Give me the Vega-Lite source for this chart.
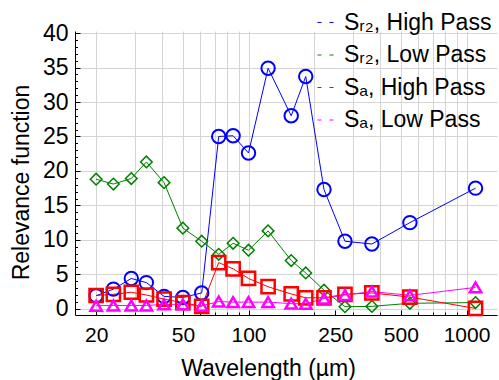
{
  "$schema": "https://vega.github.io/schema/vega-lite/v6.json",
  "width": 422,
  "height": 284,
  "autosize": "none",
  "padding": {"left": 75, "top": 31, "right": 2, "bottom": 65},
  "background": "white",
  "config": {
    "view": {"stroke": null},
    "font": "Liberation Sans",
    "axis": {"domainColor": "black", "tickColor": "black", "gridColor": "#d4d4d4", "gridWidth": 1, "labelColor": "black", "titleColor": "black", "labelFont": "Liberation Sans", "titleFont": "Liberation Sans", "titleFontWeight": "normal"},
    "legend": {"labelFont": "Liberation Sans"}
  },
  "datasets": {
    "pts": [
      {"w": 20, "s": "Sᵣ₂, High Pass", "v": 1.9},
      {"w": 24, "s": "Sᵣ₂, High Pass", "v": 2.85},
      {"w": 29, "s": "Sᵣ₂, High Pass", "v": 4.4},
      {"w": 34, "s": "Sᵣ₂, High Pass", "v": 3.8},
      {"w": 41, "s": "Sᵣ₂, High Pass", "v": 1.8},
      {"w": 50, "s": "Sᵣ₂, High Pass", "v": 1.65},
      {"w": 61, "s": "Sᵣ₂, High Pass", "v": 2.3},
      {"w": 73, "s": "Sᵣ₂, High Pass", "v": 25.0},
      {"w": 85, "s": "Sᵣ₂, High Pass", "v": 25.1},
      {"w": 100, "s": "Sᵣ₂, High Pass", "v": 22.6},
      {"w": 123, "s": "Sᵣ₂, High Pass", "v": 34.9},
      {"w": 157, "s": "Sᵣ₂, High Pass", "v": 28.0},
      {"w": 183, "s": "Sᵣ₂, High Pass", "v": 33.7},
      {"w": 222, "s": "Sᵣ₂, High Pass", "v": 17.3},
      {"w": 277, "s": "Sᵣ₂, High Pass", "v": 9.8},
      {"w": 368, "s": "Sᵣ₂, High Pass", "v": 9.4},
      {"w": 550, "s": "Sᵣ₂, High Pass", "v": 12.5},
      {"w": 1100, "s": "Sᵣ₂, High Pass", "v": 17.5},
      {"w": 20, "s": "Sᵣ₂, Low Pass", "v": 18.8},
      {"w": 24, "s": "Sᵣ₂, Low Pass", "v": 18.1},
      {"w": 29, "s": "Sᵣ₂, Low Pass", "v": 18.9},
      {"w": 34, "s": "Sᵣ₂, Low Pass", "v": 21.3},
      {"w": 41, "s": "Sᵣ₂, Low Pass", "v": 18.3},
      {"w": 50, "s": "Sᵣ₂, Low Pass", "v": 11.7},
      {"w": 61, "s": "Sᵣ₂, Low Pass", "v": 9.8},
      {"w": 73, "s": "Sᵣ₂, Low Pass", "v": 7.9},
      {"w": 85, "s": "Sᵣ₂, Low Pass", "v": 9.5},
      {"w": 100, "s": "Sᵣ₂, Low Pass", "v": 8.5},
      {"w": 123, "s": "Sᵣ₂, Low Pass", "v": 11.3},
      {"w": 157, "s": "Sᵣ₂, Low Pass", "v": 7.0},
      {"w": 183, "s": "Sᵣ₂, Low Pass", "v": 5.2},
      {"w": 222, "s": "Sᵣ₂, Low Pass", "v": 2.7},
      {"w": 277, "s": "Sᵣ₂, Low Pass", "v": 0.3},
      {"w": 368, "s": "Sᵣ₂, Low Pass", "v": 0.35},
      {"w": 550, "s": "Sᵣ₂, Low Pass", "v": 0.8},
      {"w": 1100, "s": "Sᵣ₂, Low Pass", "v": 0.9},
      {"w": 20, "s": "Sₐ, High Pass", "v": 1.93},
      {"w": 24, "s": "Sₐ, High Pass", "v": 2.1},
      {"w": 29, "s": "Sₐ, High Pass", "v": 2.4},
      {"w": 34, "s": "Sₐ, High Pass", "v": 2.0},
      {"w": 41, "s": "Sₐ, High Pass", "v": 1.4},
      {"w": 50, "s": "Sₐ, High Pass", "v": 0.9},
      {"w": 61, "s": "Sₐ, High Pass", "v": 0.35},
      {"w": 73, "s": "Sₐ, High Pass", "v": 6.7},
      {"w": 85, "s": "Sₐ, High Pass", "v": 5.8},
      {"w": 100, "s": "Sₐ, High Pass", "v": 4.4},
      {"w": 123, "s": "Sₐ, High Pass", "v": 3.2},
      {"w": 157, "s": "Sₐ, High Pass", "v": 2.15},
      {"w": 183, "s": "Sₐ, High Pass", "v": 1.6},
      {"w": 222, "s": "Sₐ, High Pass", "v": 1.6},
      {"w": 277, "s": "Sₐ, High Pass", "v": 2.1},
      {"w": 368, "s": "Sₐ, High Pass", "v": 2.3},
      {"w": 550, "s": "Sₐ, High Pass", "v": 1.7},
      {"w": 1100, "s": "Sₐ, High Pass", "v": 0.05},
      {"w": 20, "s": "Sₐ, Low Pass", "v": 0.45},
      {"w": 24, "s": "Sₐ, Low Pass", "v": 0.48},
      {"w": 29, "s": "Sₐ, Low Pass", "v": 0.48},
      {"w": 34, "s": "Sₐ, Low Pass", "v": 0.48},
      {"w": 41, "s": "Sₐ, Low Pass", "v": 0.65},
      {"w": 50, "s": "Sₐ, Low Pass", "v": 0.65},
      {"w": 61, "s": "Sₐ, Low Pass", "v": 0.43},
      {"w": 73, "s": "Sₐ, Low Pass", "v": 1.05},
      {"w": 85, "s": "Sₐ, Low Pass", "v": 0.97},
      {"w": 100, "s": "Sₐ, Low Pass", "v": 0.97},
      {"w": 123, "s": "Sₐ, Low Pass", "v": 0.97},
      {"w": 157, "s": "Sₐ, Low Pass", "v": 0.75},
      {"w": 183, "s": "Sₐ, Low Pass", "v": 0.72},
      {"w": 222, "s": "Sₐ, Low Pass", "v": 1.5},
      {"w": 277, "s": "Sₐ, Low Pass", "v": 2.0},
      {"w": 368, "s": "Sₐ, Low Pass", "v": 2.5},
      {"w": 550, "s": "Sₐ, Low Pass", "v": 1.95},
      {"w": 1100, "s": "Sₐ, Low Pass", "v": 3.1}
    ]
  },
  "data": {"name": "pts"},
  "resolve": {"axis": {"x": "independent", "y": "independent"}},
  "layer": [
    {
      "mark": {"type": "line", "strokeWidth": 1},
      "encoding": {
        "x": {"field": "w", "type": "quantitative",
          "scale": {"type": "log", "domain": [16, 1380], "nice": false},
          "axis": {"orient": "bottom", "values": [20, 30, 40, 50, 60, 70, 80, 90, 100, 200, 300, 400, 500, 600, 700, 800, 900, 1000], "labels": false, "title": null, "grid": true, "tickSize": -3, "domain": true}},
        "y": {"field": "v", "type": "quantitative",
          "scale": {"domain": [-0.9, 40.3], "nice": false, "zero": false},
          "axis": {"orient": "left", "values": [0, 5, 10, 15, 20, 25, 30, 35, 40], "grid": true, "tickSize": -5, "labelPadding": 12, "labelFontSize": 23, "title": "Relevance function", "titleFontSize": 23, "titleAngle": -90, "titleAlign": "center", "titleBaseline": "alphabetic", "titleX": -47, "titleY": 151}},
        "color": {"field": "s", "type": "nominal",
          "scale": {"domain": ["Sᵣ₂, High Pass", "Sᵣ₂, Low Pass", "Sₐ, High Pass", "Sₐ, Low Pass"], "range": ["#0000ff", "#008000", "#ff0000", "#ff00ff"]},
          "legend": {"orient": "none", "legendX": 239, "legendY": -20, "title": null, "symbolType": "stroke", "symbolDash": [4, 8], "symbolSize": 256, "symbolStrokeWidth": 1, "labelFontSize": 23, "labelOffset": 7, "rowPadding": 8.5, "padding": 0, "labelLimit": 300}}
      }
    },
    {
      "transform": [{"filter": "datum.s === 'Sᵣ₂, High Pass'"}],
      "mark": {"type": "point", "shape": "circle", "filled": false, "opacity": 1, "color": "#0000ff", "size": 180, "strokeWidth": 2},
      "encoding": {
        "x": {"field": "w", "type": "quantitative",
          "axis": {"orient": "bottom", "values": [20, 50, 100, 250, 500, 1000], "format": "d", "grid": false, "domain": false, "tickSize": -5, "labelPadding": 14, "labelFontSize": 21, "title": "Wavelength (µm)", "titleFontSize": 23, "titleBaseline": "alphabetic", "titleX": 193, "titleY": 60, "labelFlush": false}},
        "y": {"field": "v", "type": "quantitative",
          "axis": {"orient": "left", "values": [0, 1, 2, 3, 4, 5, 6, 7, 8, 9, 10, 11, 12, 13, 14, 15, 16, 17, 18, 19, 20, 21, 22, 23, 24, 25, 26, 27, 28, 29, 30, 31, 32, 33, 34, 35, 36, 37, 38, 39, 40], "labels": false, "grid": false, "domain": false, "tickSize": -2.5, "title": null}}
      }
    },
    {
      "transform": [{"filter": "datum.s === 'Sᵣ₂, Low Pass'"}],
      "mark": {"type": "point", "shape": "diamond", "filled": false, "opacity": 1, "color": "#008000", "size": 135, "strokeWidth": 1.5},
      "encoding": {
        "x": {"field": "w", "type": "quantitative", "axis": null},
        "y": {"field": "v", "type": "quantitative", "axis": null}
      }
    },
    {
      "transform": [{"filter": "datum.s === 'Sₐ, High Pass'"}],
      "mark": {"type": "point", "shape": "square", "filled": false, "opacity": 1, "color": "#ff0000", "size": 175, "strokeWidth": 2.5},
      "encoding": {
        "x": {"field": "w", "type": "quantitative", "axis": null},
        "y": {"field": "v", "type": "quantitative", "axis": null}
      }
    },
    {
      "transform": [{"filter": "datum.s === 'Sₐ, Low Pass'"}],
      "mark": {"type": "point", "shape": "triangle-up", "filled": false, "opacity": 1, "color": "#ff00ff", "size": 130, "strokeWidth": 2.5},
      "encoding": {
        "x": {"field": "w", "type": "quantitative", "axis": null},
        "y": {"field": "v", "type": "quantitative", "axis": null}
      }
    }
  ]
}
